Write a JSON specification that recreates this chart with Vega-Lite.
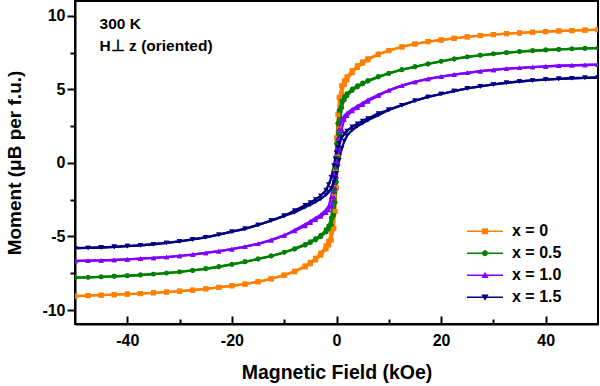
{
"$schema": "https://vega.github.io/schema/vega-lite/v6.json",
"width": 523, "height": 323,
"autosize": {"type": "none"},
"padding": {"left": 75, "top": 1, "right": 2, "bottom": 62},
"background": "white",
"config": {
 "font": "Liberation Sans",
 "view": {"stroke": "black", "strokeWidth": 2},
 "axis": {"domainColor": "black", "domainWidth": 2, "tickColor": "black", "tickWidth": 2, "labelColor": "black", "titleColor": "black", "labelFont": "Liberation Sans", "titleFont": "Liberation Sans", "labelFontWeight": "bold", "titleFontWeight": "bold", "labelFontSize": 16, "titleFontSize": 19, "grid": false}
},
"datasets": {
 "notes": [{"H": -45.3, "M": 9.44, "t": "300 K"}, {"H": -45.3, "M": 7.95, "t": "H⊥ z (oriented)"}],
 "mh": [
{"s":"x = 0","b":"d","H":50,"M":9.05},{"s":"x = 0","b":"d","H":47.5,"M":9.02},{"s":"x = 0","b":"d","H":45,"M":8.99},{"s":"x = 0","b":"d","H":42.5,"M":8.96},{"s":"x = 0","b":"d","H":40,"M":8.92},{"s":"x = 0","b":"d","H":37.5,"M":8.88},{"s":"x = 0","b":"d","H":35,"M":8.83},{"s":"x = 0","b":"d","H":32.5,"M":8.78},{"s":"x = 0","b":"d","H":30,"M":8.72},{"s":"x = 0","b":"d","H":27.5,"M":8.65},{"s":"x = 0","b":"d","H":25,"M":8.56},{"s":"x = 0","b":"d","H":22.5,"M":8.46},{"s":"x = 0","b":"d","H":20,"M":8.35},{"s":"x = 0","b":"d","H":17.5,"M":8.24},{"s":"x = 0","b":"d","H":15,"M":8.08},{"s":"x = 0","b":"d","H":12.5,"M":7.88},{"s":"x = 0","b":"d","H":10,"M":7.63},
{"s":"x = 0","b":"d","H":8,"M":7.4},{"s":"x = 0","b":"d","H":6,"M":7.07},{"s":"x = 0","b":"d","H":5,"M":6.86},{"s":"x = 0","b":"d","H":4,"M":6.6},{"s":"x = 0","b":"d","H":3,"M":6.27},{"s":"x = 0","b":"d","H":2,"M":5.85},{"s":"x = 0","b":"d","H":1.5,"M":5.58},{"s":"x = 0","b":"d","H":1,"M":5.25},{"s":"x = 0","b":"d","H":0.5,"M":4.45},{"s":"x = 0","b":"d","H":0.25,"M":3.3},{"s":"x = 0","b":"d","H":0,"M":1.7},{"s":"x = 0","b":"d","H":-0.25,"M":-0.4},{"s":"x = 0","b":"d","H":-0.5,"M":-2.3},{"s":"x = 0","b":"d","H":-1,"M":-4.7},{"s":"x = 0","b":"d","H":-1.5,"M":-5.33},{"s":"x = 0","b":"d","H":-2,"M":-5.64},{"s":"x = 0","b":"d","H":-3,"M":-6.13},{"s":"x = 0","b":"d","H":-4,"M":-6.48},{"s":"x = 0","b":"d","H":-5,"M":-6.77},{"s":"x = 0","b":"d","H":-6,"M":-7.0},{"s":"x = 0","b":"d","H":-8,"M":-7.36},
{"s":"x = 0","b":"d","H":-10,"M":-7.63},{"s":"x = 0","b":"d","H":-12.5,"M":-7.88},{"s":"x = 0","b":"d","H":-15,"M":-8.08},{"s":"x = 0","b":"d","H":-17.5,"M":-8.24},{"s":"x = 0","b":"d","H":-20,"M":-8.35},{"s":"x = 0","b":"d","H":-22.5,"M":-8.46},{"s":"x = 0","b":"d","H":-25,"M":-8.56},{"s":"x = 0","b":"d","H":-27.5,"M":-8.65},{"s":"x = 0","b":"d","H":-30,"M":-8.72},{"s":"x = 0","b":"d","H":-32.5,"M":-8.78},{"s":"x = 0","b":"d","H":-35,"M":-8.83},{"s":"x = 0","b":"d","H":-37.5,"M":-8.88},{"s":"x = 0","b":"d","H":-40,"M":-8.92},{"s":"x = 0","b":"d","H":-42.5,"M":-8.96},{"s":"x = 0","b":"d","H":-45,"M":-8.99},{"s":"x = 0","b":"d","H":-47.5,"M":-9.02},{"s":"x = 0","b":"d","H":-50,"M":-9.05},
{"s":"x = 0","b":"a","H":50,"M":9.05},{"s":"x = 0","b":"a","H":47.5,"M":9.02},{"s":"x = 0","b":"a","H":45,"M":8.99},{"s":"x = 0","b":"a","H":42.5,"M":8.96},{"s":"x = 0","b":"a","H":40,"M":8.92},{"s":"x = 0","b":"a","H":37.5,"M":8.88},{"s":"x = 0","b":"a","H":35,"M":8.83},{"s":"x = 0","b":"a","H":32.5,"M":8.78},{"s":"x = 0","b":"a","H":30,"M":8.72},{"s":"x = 0","b":"a","H":27.5,"M":8.65},{"s":"x = 0","b":"a","H":25,"M":8.56},{"s":"x = 0","b":"a","H":22.5,"M":8.46},{"s":"x = 0","b":"a","H":20,"M":8.35},{"s":"x = 0","b":"a","H":17.5,"M":8.24},{"s":"x = 0","b":"a","H":15,"M":8.08},{"s":"x = 0","b":"a","H":12.5,"M":7.88},{"s":"x = 0","b":"a","H":10,"M":7.63},
{"s":"x = 0","b":"a","H":8,"M":7.36},{"s":"x = 0","b":"a","H":6,"M":7.0},{"s":"x = 0","b":"a","H":5,"M":6.77},{"s":"x = 0","b":"a","H":4,"M":6.48},{"s":"x = 0","b":"a","H":3,"M":6.13},{"s":"x = 0","b":"a","H":2,"M":5.64},{"s":"x = 0","b":"a","H":1.5,"M":5.33},{"s":"x = 0","b":"a","H":1,"M":4.7},{"s":"x = 0","b":"a","H":0.5,"M":2.3},{"s":"x = 0","b":"a","H":0.25,"M":0.4},{"s":"x = 0","b":"a","H":0,"M":-1.7},{"s":"x = 0","b":"a","H":-0.25,"M":-3.3},{"s":"x = 0","b":"a","H":-0.5,"M":-4.45},{"s":"x = 0","b":"a","H":-1,"M":-5.25},{"s":"x = 0","b":"a","H":-1.5,"M":-5.58},{"s":"x = 0","b":"a","H":-2,"M":-5.85},{"s":"x = 0","b":"a","H":-3,"M":-6.27},{"s":"x = 0","b":"a","H":-4,"M":-6.6},{"s":"x = 0","b":"a","H":-5,"M":-6.86},{"s":"x = 0","b":"a","H":-6,"M":-7.07},{"s":"x = 0","b":"a","H":-8,"M":-7.4},
{"s":"x = 0","b":"a","H":-10,"M":-7.63},{"s":"x = 0","b":"a","H":-12.5,"M":-7.88},{"s":"x = 0","b":"a","H":-15,"M":-8.08},{"s":"x = 0","b":"a","H":-17.5,"M":-8.24},{"s":"x = 0","b":"a","H":-20,"M":-8.35},{"s":"x = 0","b":"a","H":-22.5,"M":-8.46},{"s":"x = 0","b":"a","H":-25,"M":-8.56},{"s":"x = 0","b":"a","H":-27.5,"M":-8.65},{"s":"x = 0","b":"a","H":-30,"M":-8.72},{"s":"x = 0","b":"a","H":-32.5,"M":-8.78},{"s":"x = 0","b":"a","H":-35,"M":-8.83},{"s":"x = 0","b":"a","H":-37.5,"M":-8.88},{"s":"x = 0","b":"a","H":-40,"M":-8.92},{"s":"x = 0","b":"a","H":-42.5,"M":-8.96},{"s":"x = 0","b":"a","H":-45,"M":-8.99},{"s":"x = 0","b":"a","H":-47.5,"M":-9.02},{"s":"x = 0","b":"a","H":-50,"M":-9.05},

{"s":"x = 0.5","b":"d","H":50,"M":7.8},{"s":"x = 0.5","b":"d","H":47.5,"M":7.78},{"s":"x = 0.5","b":"d","H":45,"M":7.75},{"s":"x = 0.5","b":"d","H":42.5,"M":7.71},{"s":"x = 0.5","b":"d","H":40,"M":7.67},{"s":"x = 0.5","b":"d","H":37.5,"M":7.62},{"s":"x = 0.5","b":"d","H":35,"M":7.56},{"s":"x = 0.5","b":"d","H":32.5,"M":7.49},{"s":"x = 0.5","b":"d","H":30,"M":7.41},{"s":"x = 0.5","b":"d","H":27.5,"M":7.31},{"s":"x = 0.5","b":"d","H":25,"M":7.2},{"s":"x = 0.5","b":"d","H":22.5,"M":7.06},{"s":"x = 0.5","b":"d","H":20,"M":6.9},{"s":"x = 0.5","b":"d","H":17.5,"M":6.72},{"s":"x = 0.5","b":"d","H":15,"M":6.53},{"s":"x = 0.5","b":"d","H":12.5,"M":6.33},{"s":"x = 0.5","b":"d","H":10,"M":6.08},
{"s":"x = 0.5","b":"d","H":8,"M":5.87},{"s":"x = 0.5","b":"d","H":6,"M":5.6},{"s":"x = 0.5","b":"d","H":5,"M":5.43},{"s":"x = 0.5","b":"d","H":4,"M":5.24},{"s":"x = 0.5","b":"d","H":3,"M":5.02},{"s":"x = 0.5","b":"d","H":2,"M":4.7},{"s":"x = 0.5","b":"d","H":1.5,"M":4.5},{"s":"x = 0.5","b":"d","H":1,"M":4.2},{"s":"x = 0.5","b":"d","H":0.5,"M":3.55},{"s":"x = 0.5","b":"d","H":0.25,"M":2.7},{"s":"x = 0.5","b":"d","H":0,"M":1.3},{"s":"x = 0.5","b":"d","H":-0.25,"M":-0.33},{"s":"x = 0.5","b":"d","H":-0.5,"M":-1.9},{"s":"x = 0.5","b":"d","H":-1,"M":-3.75},{"s":"x = 0.5","b":"d","H":-1.5,"M":-4.28},{"s":"x = 0.5","b":"d","H":-2,"M":-4.55},{"s":"x = 0.5","b":"d","H":-3,"M":-4.92},{"s":"x = 0.5","b":"d","H":-4,"M":-5.15},{"s":"x = 0.5","b":"d","H":-5,"M":-5.36},{"s":"x = 0.5","b":"d","H":-6,"M":-5.54},{"s":"x = 0.5","b":"d","H":-8,"M":-5.83},
{"s":"x = 0.5","b":"d","H":-10,"M":-6.08},{"s":"x = 0.5","b":"d","H":-12.5,"M":-6.33},{"s":"x = 0.5","b":"d","H":-15,"M":-6.53},{"s":"x = 0.5","b":"d","H":-17.5,"M":-6.72},{"s":"x = 0.5","b":"d","H":-20,"M":-6.9},{"s":"x = 0.5","b":"d","H":-22.5,"M":-7.06},{"s":"x = 0.5","b":"d","H":-25,"M":-7.2},{"s":"x = 0.5","b":"d","H":-27.5,"M":-7.31},{"s":"x = 0.5","b":"d","H":-30,"M":-7.41},{"s":"x = 0.5","b":"d","H":-32.5,"M":-7.49},{"s":"x = 0.5","b":"d","H":-35,"M":-7.56},{"s":"x = 0.5","b":"d","H":-37.5,"M":-7.62},{"s":"x = 0.5","b":"d","H":-40,"M":-7.67},{"s":"x = 0.5","b":"d","H":-42.5,"M":-7.71},{"s":"x = 0.5","b":"d","H":-45,"M":-7.75},{"s":"x = 0.5","b":"d","H":-47.5,"M":-7.78},{"s":"x = 0.5","b":"d","H":-50,"M":-7.8},
{"s":"x = 0.5","b":"a","H":50,"M":7.8},{"s":"x = 0.5","b":"a","H":47.5,"M":7.78},{"s":"x = 0.5","b":"a","H":45,"M":7.75},{"s":"x = 0.5","b":"a","H":42.5,"M":7.71},{"s":"x = 0.5","b":"a","H":40,"M":7.67},{"s":"x = 0.5","b":"a","H":37.5,"M":7.62},{"s":"x = 0.5","b":"a","H":35,"M":7.56},{"s":"x = 0.5","b":"a","H":32.5,"M":7.49},{"s":"x = 0.5","b":"a","H":30,"M":7.41},{"s":"x = 0.5","b":"a","H":27.5,"M":7.31},{"s":"x = 0.5","b":"a","H":25,"M":7.2},{"s":"x = 0.5","b":"a","H":22.5,"M":7.06},{"s":"x = 0.5","b":"a","H":20,"M":6.9},{"s":"x = 0.5","b":"a","H":17.5,"M":6.72},{"s":"x = 0.5","b":"a","H":15,"M":6.53},{"s":"x = 0.5","b":"a","H":12.5,"M":6.33},{"s":"x = 0.5","b":"a","H":10,"M":6.08},
{"s":"x = 0.5","b":"a","H":8,"M":5.83},{"s":"x = 0.5","b":"a","H":6,"M":5.54},{"s":"x = 0.5","b":"a","H":5,"M":5.36},{"s":"x = 0.5","b":"a","H":4,"M":5.15},{"s":"x = 0.5","b":"a","H":3,"M":4.92},{"s":"x = 0.5","b":"a","H":2,"M":4.55},{"s":"x = 0.5","b":"a","H":1.5,"M":4.28},{"s":"x = 0.5","b":"a","H":1,"M":3.75},{"s":"x = 0.5","b":"a","H":0.5,"M":1.9},{"s":"x = 0.5","b":"a","H":0.25,"M":0.33},{"s":"x = 0.5","b":"a","H":0,"M":-1.3},{"s":"x = 0.5","b":"a","H":-0.25,"M":-2.7},{"s":"x = 0.5","b":"a","H":-0.5,"M":-3.55},{"s":"x = 0.5","b":"a","H":-1,"M":-4.2},{"s":"x = 0.5","b":"a","H":-1.5,"M":-4.5},{"s":"x = 0.5","b":"a","H":-2,"M":-4.7},{"s":"x = 0.5","b":"a","H":-3,"M":-5.02},{"s":"x = 0.5","b":"a","H":-4,"M":-5.24},{"s":"x = 0.5","b":"a","H":-5,"M":-5.43},{"s":"x = 0.5","b":"a","H":-6,"M":-5.6},{"s":"x = 0.5","b":"a","H":-8,"M":-5.87},
{"s":"x = 0.5","b":"a","H":-10,"M":-6.08},{"s":"x = 0.5","b":"a","H":-12.5,"M":-6.33},{"s":"x = 0.5","b":"a","H":-15,"M":-6.53},{"s":"x = 0.5","b":"a","H":-17.5,"M":-6.72},{"s":"x = 0.5","b":"a","H":-20,"M":-6.9},{"s":"x = 0.5","b":"a","H":-22.5,"M":-7.06},{"s":"x = 0.5","b":"a","H":-25,"M":-7.2},{"s":"x = 0.5","b":"a","H":-27.5,"M":-7.31},{"s":"x = 0.5","b":"a","H":-30,"M":-7.41},{"s":"x = 0.5","b":"a","H":-32.5,"M":-7.49},{"s":"x = 0.5","b":"a","H":-35,"M":-7.56},{"s":"x = 0.5","b":"a","H":-37.5,"M":-7.62},{"s":"x = 0.5","b":"a","H":-40,"M":-7.67},{"s":"x = 0.5","b":"a","H":-42.5,"M":-7.71},{"s":"x = 0.5","b":"a","H":-45,"M":-7.75},{"s":"x = 0.5","b":"a","H":-47.5,"M":-7.78},{"s":"x = 0.5","b":"a","H":-50,"M":-7.8},

{"s":"x = 1.0","b":"d","H":50,"M":6.67},{"s":"x = 1.0","b":"d","H":47.5,"M":6.65},{"s":"x = 1.0","b":"d","H":45,"M":6.63},{"s":"x = 1.0","b":"d","H":42.5,"M":6.6},{"s":"x = 1.0","b":"d","H":40,"M":6.56},{"s":"x = 1.0","b":"d","H":37.5,"M":6.51},{"s":"x = 1.0","b":"d","H":35,"M":6.46},{"s":"x = 1.0","b":"d","H":32.5,"M":6.4},{"s":"x = 1.0","b":"d","H":30,"M":6.32},{"s":"x = 1.0","b":"d","H":27.5,"M":6.23},{"s":"x = 1.0","b":"d","H":25,"M":6.12},{"s":"x = 1.0","b":"d","H":22.5,"M":6.0},{"s":"x = 1.0","b":"d","H":20,"M":5.86},{"s":"x = 1.0","b":"d","H":17.5,"M":5.7},{"s":"x = 1.0","b":"d","H":15,"M":5.5},{"s":"x = 1.0","b":"d","H":12.5,"M":5.25},{"s":"x = 1.0","b":"d","H":10,"M":4.93},
{"s":"x = 1.0","b":"d","H":8,"M":4.63},{"s":"x = 1.0","b":"d","H":6,"M":4.28},{"s":"x = 1.0","b":"d","H":5,"M":4.07},{"s":"x = 1.0","b":"d","H":4,"M":3.86},{"s":"x = 1.0","b":"d","H":3,"M":3.64},{"s":"x = 1.0","b":"d","H":2,"M":3.38},{"s":"x = 1.0","b":"d","H":1.5,"M":3.2},{"s":"x = 1.0","b":"d","H":1,"M":2.95},{"s":"x = 1.0","b":"d","H":0.5,"M":2.3},{"s":"x = 1.0","b":"d","H":0.25,"M":1.7},{"s":"x = 1.0","b":"d","H":0,"M":0.9},{"s":"x = 1.0","b":"d","H":-0.25,"M":0},{"s":"x = 1.0","b":"d","H":-0.5,"M":-0.9},{"s":"x = 1.0","b":"d","H":-1,"M":-2.3},{"s":"x = 1.0","b":"d","H":-1.5,"M":-2.95},{"s":"x = 1.0","b":"d","H":-2,"M":-3.2},{"s":"x = 1.0","b":"d","H":-3,"M":-3.52},{"s":"x = 1.0","b":"d","H":-4,"M":-3.75},{"s":"x = 1.0","b":"d","H":-5,"M":-3.96},{"s":"x = 1.0","b":"d","H":-6,"M":-4.18},{"s":"x = 1.0","b":"d","H":-8,"M":-4.57},
{"s":"x = 1.0","b":"d","H":-10,"M":-4.93},{"s":"x = 1.0","b":"d","H":-12.5,"M":-5.25},{"s":"x = 1.0","b":"d","H":-15,"M":-5.5},{"s":"x = 1.0","b":"d","H":-17.5,"M":-5.7},{"s":"x = 1.0","b":"d","H":-20,"M":-5.86},{"s":"x = 1.0","b":"d","H":-22.5,"M":-6.0},{"s":"x = 1.0","b":"d","H":-25,"M":-6.12},{"s":"x = 1.0","b":"d","H":-27.5,"M":-6.23},{"s":"x = 1.0","b":"d","H":-30,"M":-6.32},{"s":"x = 1.0","b":"d","H":-32.5,"M":-6.4},{"s":"x = 1.0","b":"d","H":-35,"M":-6.46},{"s":"x = 1.0","b":"d","H":-37.5,"M":-6.51},{"s":"x = 1.0","b":"d","H":-40,"M":-6.56},{"s":"x = 1.0","b":"d","H":-42.5,"M":-6.6},{"s":"x = 1.0","b":"d","H":-45,"M":-6.63},{"s":"x = 1.0","b":"d","H":-47.5,"M":-6.65},{"s":"x = 1.0","b":"d","H":-50,"M":-6.67},
{"s":"x = 1.0","b":"a","H":50,"M":6.67},{"s":"x = 1.0","b":"a","H":47.5,"M":6.65},{"s":"x = 1.0","b":"a","H":45,"M":6.63},{"s":"x = 1.0","b":"a","H":42.5,"M":6.6},{"s":"x = 1.0","b":"a","H":40,"M":6.56},{"s":"x = 1.0","b":"a","H":37.5,"M":6.51},{"s":"x = 1.0","b":"a","H":35,"M":6.46},{"s":"x = 1.0","b":"a","H":32.5,"M":6.4},{"s":"x = 1.0","b":"a","H":30,"M":6.32},{"s":"x = 1.0","b":"a","H":27.5,"M":6.23},{"s":"x = 1.0","b":"a","H":25,"M":6.12},{"s":"x = 1.0","b":"a","H":22.5,"M":6.0},{"s":"x = 1.0","b":"a","H":20,"M":5.86},{"s":"x = 1.0","b":"a","H":17.5,"M":5.7},{"s":"x = 1.0","b":"a","H":15,"M":5.5},{"s":"x = 1.0","b":"a","H":12.5,"M":5.25},{"s":"x = 1.0","b":"a","H":10,"M":4.93},
{"s":"x = 1.0","b":"a","H":8,"M":4.57},{"s":"x = 1.0","b":"a","H":6,"M":4.18},{"s":"x = 1.0","b":"a","H":5,"M":3.96},{"s":"x = 1.0","b":"a","H":4,"M":3.75},{"s":"x = 1.0","b":"a","H":3,"M":3.52},{"s":"x = 1.0","b":"a","H":2,"M":3.2},{"s":"x = 1.0","b":"a","H":1.5,"M":2.95},{"s":"x = 1.0","b":"a","H":1,"M":2.3},{"s":"x = 1.0","b":"a","H":0.5,"M":0.9},{"s":"x = 1.0","b":"a","H":0.25,"M":0},{"s":"x = 1.0","b":"a","H":0,"M":-0.9},{"s":"x = 1.0","b":"a","H":-0.25,"M":-1.7},{"s":"x = 1.0","b":"a","H":-0.5,"M":-2.3},{"s":"x = 1.0","b":"a","H":-1,"M":-2.95},{"s":"x = 1.0","b":"a","H":-1.5,"M":-3.2},{"s":"x = 1.0","b":"a","H":-2,"M":-3.38},{"s":"x = 1.0","b":"a","H":-3,"M":-3.64},{"s":"x = 1.0","b":"a","H":-4,"M":-3.86},{"s":"x = 1.0","b":"a","H":-5,"M":-4.07},{"s":"x = 1.0","b":"a","H":-6,"M":-4.28},{"s":"x = 1.0","b":"a","H":-8,"M":-4.63},
{"s":"x = 1.0","b":"a","H":-10,"M":-4.93},{"s":"x = 1.0","b":"a","H":-12.5,"M":-5.25},{"s":"x = 1.0","b":"a","H":-15,"M":-5.5},{"s":"x = 1.0","b":"a","H":-17.5,"M":-5.7},{"s":"x = 1.0","b":"a","H":-20,"M":-5.86},{"s":"x = 1.0","b":"a","H":-22.5,"M":-6.0},{"s":"x = 1.0","b":"a","H":-25,"M":-6.12},{"s":"x = 1.0","b":"a","H":-27.5,"M":-6.23},{"s":"x = 1.0","b":"a","H":-30,"M":-6.32},{"s":"x = 1.0","b":"a","H":-32.5,"M":-6.4},{"s":"x = 1.0","b":"a","H":-35,"M":-6.46},{"s":"x = 1.0","b":"a","H":-37.5,"M":-6.51},{"s":"x = 1.0","b":"a","H":-40,"M":-6.56},{"s":"x = 1.0","b":"a","H":-42.5,"M":-6.6},{"s":"x = 1.0","b":"a","H":-45,"M":-6.63},{"s":"x = 1.0","b":"a","H":-47.5,"M":-6.65},{"s":"x = 1.0","b":"a","H":-50,"M":-6.67},

{"s":"x = 1.5","b":"d","H":50,"M":5.8},{"s":"x = 1.5","b":"d","H":47.5,"M":5.78},{"s":"x = 1.5","b":"d","H":45,"M":5.75},{"s":"x = 1.5","b":"d","H":42.5,"M":5.71},{"s":"x = 1.5","b":"d","H":40,"M":5.66},{"s":"x = 1.5","b":"d","H":37.5,"M":5.6},{"s":"x = 1.5","b":"d","H":35,"M":5.53},{"s":"x = 1.5","b":"d","H":32.5,"M":5.44},{"s":"x = 1.5","b":"d","H":30,"M":5.33},{"s":"x = 1.5","b":"d","H":27.5,"M":5.2},{"s":"x = 1.5","b":"d","H":25,"M":5.06},{"s":"x = 1.5","b":"d","H":22.5,"M":4.88},{"s":"x = 1.5","b":"d","H":20,"M":4.68},{"s":"x = 1.5","b":"d","H":17.5,"M":4.48},{"s":"x = 1.5","b":"d","H":15,"M":4.22},{"s":"x = 1.5","b":"d","H":12.5,"M":3.92},{"s":"x = 1.5","b":"d","H":10,"M":3.6},
{"s":"x = 1.5","b":"d","H":8,"M":3.36},{"s":"x = 1.5","b":"d","H":6,"M":3.02},{"s":"x = 1.5","b":"d","H":5,"M":2.85},{"s":"x = 1.5","b":"d","H":4,"M":2.66},{"s":"x = 1.5","b":"d","H":3,"M":2.45},{"s":"x = 1.5","b":"d","H":2,"M":2.17},{"s":"x = 1.5","b":"d","H":1.5,"M":1.98},{"s":"x = 1.5","b":"d","H":1,"M":1.72},{"s":"x = 1.5","b":"d","H":0.5,"M":1.32},{"s":"x = 1.5","b":"d","H":0.25,"M":1.04},{"s":"x = 1.5","b":"d","H":0,"M":0.7},{"s":"x = 1.5","b":"d","H":-0.25,"M":0.27},{"s":"x = 1.5","b":"d","H":-0.5,"M":-0.18},{"s":"x = 1.5","b":"d","H":-1,"M":-0.98},{"s":"x = 1.5","b":"d","H":-1.5,"M":-1.48},{"s":"x = 1.5","b":"d","H":-2,"M":-1.85},{"s":"x = 1.5","b":"d","H":-3,"M":-2.23},{"s":"x = 1.5","b":"d","H":-4,"M":-2.49},{"s":"x = 1.5","b":"d","H":-5,"M":-2.7},{"s":"x = 1.5","b":"d","H":-6,"M":-2.89},{"s":"x = 1.5","b":"d","H":-8,"M":-3.24},
{"s":"x = 1.5","b":"d","H":-10,"M":-3.6},{"s":"x = 1.5","b":"d","H":-12.5,"M":-3.92},{"s":"x = 1.5","b":"d","H":-15,"M":-4.22},{"s":"x = 1.5","b":"d","H":-17.5,"M":-4.48},{"s":"x = 1.5","b":"d","H":-20,"M":-4.68},{"s":"x = 1.5","b":"d","H":-22.5,"M":-4.88},{"s":"x = 1.5","b":"d","H":-25,"M":-5.06},{"s":"x = 1.5","b":"d","H":-27.5,"M":-5.2},{"s":"x = 1.5","b":"d","H":-30,"M":-5.33},{"s":"x = 1.5","b":"d","H":-32.5,"M":-5.44},{"s":"x = 1.5","b":"d","H":-35,"M":-5.53},{"s":"x = 1.5","b":"d","H":-37.5,"M":-5.6},{"s":"x = 1.5","b":"d","H":-40,"M":-5.66},{"s":"x = 1.5","b":"d","H":-42.5,"M":-5.71},{"s":"x = 1.5","b":"d","H":-45,"M":-5.75},{"s":"x = 1.5","b":"d","H":-47.5,"M":-5.78},{"s":"x = 1.5","b":"d","H":-50,"M":-5.8},
{"s":"x = 1.5","b":"a","H":50,"M":5.8},{"s":"x = 1.5","b":"a","H":47.5,"M":5.78},{"s":"x = 1.5","b":"a","H":45,"M":5.75},{"s":"x = 1.5","b":"a","H":42.5,"M":5.71},{"s":"x = 1.5","b":"a","H":40,"M":5.66},{"s":"x = 1.5","b":"a","H":37.5,"M":5.6},{"s":"x = 1.5","b":"a","H":35,"M":5.53},{"s":"x = 1.5","b":"a","H":32.5,"M":5.44},{"s":"x = 1.5","b":"a","H":30,"M":5.33},{"s":"x = 1.5","b":"a","H":27.5,"M":5.2},{"s":"x = 1.5","b":"a","H":25,"M":5.06},{"s":"x = 1.5","b":"a","H":22.5,"M":4.88},{"s":"x = 1.5","b":"a","H":20,"M":4.68},{"s":"x = 1.5","b":"a","H":17.5,"M":4.48},{"s":"x = 1.5","b":"a","H":15,"M":4.22},{"s":"x = 1.5","b":"a","H":12.5,"M":3.92},{"s":"x = 1.5","b":"a","H":10,"M":3.6},
{"s":"x = 1.5","b":"a","H":8,"M":3.24},{"s":"x = 1.5","b":"a","H":6,"M":2.89},{"s":"x = 1.5","b":"a","H":5,"M":2.7},{"s":"x = 1.5","b":"a","H":4,"M":2.49},{"s":"x = 1.5","b":"a","H":3,"M":2.23},{"s":"x = 1.5","b":"a","H":2,"M":1.85},{"s":"x = 1.5","b":"a","H":1.5,"M":1.48},{"s":"x = 1.5","b":"a","H":1,"M":0.98},{"s":"x = 1.5","b":"a","H":0.5,"M":0.18},{"s":"x = 1.5","b":"a","H":0.25,"M":-0.27},{"s":"x = 1.5","b":"a","H":0,"M":-0.7},{"s":"x = 1.5","b":"a","H":-0.25,"M":-1.04},{"s":"x = 1.5","b":"a","H":-0.5,"M":-1.32},{"s":"x = 1.5","b":"a","H":-1,"M":-1.72},{"s":"x = 1.5","b":"a","H":-1.5,"M":-1.98},{"s":"x = 1.5","b":"a","H":-2,"M":-2.17},{"s":"x = 1.5","b":"a","H":-3,"M":-2.45},{"s":"x = 1.5","b":"a","H":-4,"M":-2.66},{"s":"x = 1.5","b":"a","H":-5,"M":-2.85},{"s":"x = 1.5","b":"a","H":-6,"M":-3.02},{"s":"x = 1.5","b":"a","H":-8,"M":-3.36},
{"s":"x = 1.5","b":"a","H":-10,"M":-3.6},{"s":"x = 1.5","b":"a","H":-12.5,"M":-3.92},{"s":"x = 1.5","b":"a","H":-15,"M":-4.22},{"s":"x = 1.5","b":"a","H":-17.5,"M":-4.48},{"s":"x = 1.5","b":"a","H":-20,"M":-4.68},{"s":"x = 1.5","b":"a","H":-22.5,"M":-4.88},{"s":"x = 1.5","b":"a","H":-25,"M":-5.06},{"s":"x = 1.5","b":"a","H":-27.5,"M":-5.2},{"s":"x = 1.5","b":"a","H":-30,"M":-5.33},{"s":"x = 1.5","b":"a","H":-32.5,"M":-5.44},{"s":"x = 1.5","b":"a","H":-35,"M":-5.53},{"s":"x = 1.5","b":"a","H":-37.5,"M":-5.6},{"s":"x = 1.5","b":"a","H":-40,"M":-5.66},{"s":"x = 1.5","b":"a","H":-42.5,"M":-5.71},{"s":"x = 1.5","b":"a","H":-45,"M":-5.75},{"s":"x = 1.5","b":"a","H":-47.5,"M":-5.78},{"s":"x = 1.5","b":"a","H":-50,"M":-5.8}
 ]
},
"data": {"name": "mh"},
"encoding": {
 "x": {"field": "H", "type": "quantitative", "scale": {"domain": [-50, 50], "nice": false, "zero": false},
  "axis": {"values": [-40, -30, -20, -10, 0, 10, 20, 30, 40], "labelExpr": "datum.value % 20 === 0 ? replace(datum.label, '\u2212', '-') : ''", "tickSize": {"condition": {"test": "datum.value % 20 === 0", "value": -8}, "value": -5}, "labelPadding": 16, "title": "Magnetic Field (kOe)", "titleFontSize": 19.5, "titlePadding": 15}},
 "y": {"field": "M", "type": "quantitative", "scale": {"domain": [-10.95, 11], "nice": false, "zero": false},
  "axis": {"values": [-10, -7.5, -5, -2.5, 0, 2.5, 5, 7.5, 10], "labelExpr": "datum.value % 5 === 0 ? replace(datum.label, '\u2212', '-') : ''", "tickSize": {"condition": {"test": "datum.value % 5 === 0", "value": 8}, "value": 5}, "labelPadding": 2, "title": "Moment (μB per f.u.)", "titlePadding": 17}}
},
"layer": [
 {"mark": {"type": "line", "strokeWidth": 2.3, "clip": true},
  "encoding": {"stroke": {"field": "s", "type": "nominal", "scale": {"range": ["#FF8000", "#008000", "#8000FF", "#000080"]}, "legend": null}, "detail": {"field": "b"}}},
 {"transform": [{"filter": {"field": "s", "equal": "x = 0"}}], "mark": {"type": "point", "shape": "square", "filled": true, "opacity": 1, "size": 26, "clip": true},
  "encoding": {"fill": {"field": "s", "type": "nominal", "scale": {"range": ["#FF8000", "#008000", "#8000FF", "#000080"]}, "legend": null}}},
 {"transform": [{"filter": {"field": "s", "equal": "x = 0.5"}}], "mark": {"type": "point", "shape": "circle", "filled": true, "opacity": 1, "size": 24, "clip": true},
  "encoding": {"fill": {"field": "s", "type": "nominal", "legend": null}}},
 {"transform": [{"filter": {"field": "s", "equal": "x = 1.0"}}], "mark": {"type": "point", "shape": "triangle-up", "filled": true, "opacity": 1, "size": 28, "clip": true},
  "encoding": {"fill": {"field": "s", "type": "nominal", "legend": null}}},
 {"transform": [{"filter": {"field": "s", "equal": "x = 1.5"}}], "mark": {"type": "point", "shape": "triangle-down", "filled": true, "opacity": 1, "size": 28, "clip": true},
  "encoding": {"fill": {"field": "s", "type": "nominal", "legend": null}}},
 {"transform": [{"filter": "datum.H > 1000"}], "mark": {"type": "point", "filled": true, "opacity": 1},
  "encoding": {
   "color": {"field": "s", "type": "nominal", "scale": {"domain": ["x = 0", "x = 0.5", "x = 1.0", "x = 1.5"], "range": ["#FF8000", "#008000", "#8000FF", "#000080"]},
    "legend": {"orient": "none", "legendX": 392, "legendY": 222, "title": null, "symbolSize": 1296, "labelFontSize": 16, "labelFontWeight": "bold", "labelFont": "Liberation Sans", "labelColor": "black", "labelOffset": 9, "rowPadding": 5, "clipHeight": 16.5, "padding": 0, "symbolOpacity": 1, "symbolStrokeWidth": 0}},
   "shape": {"field": "s", "type": "nominal", "scale": {"domain": ["x = 0", "x = 0.5", "x = 1.0", "x = 1.5"], "range": ["M-1,-0.045H1V0.045H-1Z M-0.17,-0.17H0.17V0.17H-0.17Z", "M-1,-0.045H1V0.045H-1Z M-0.16,0A0.16,0.16 0 1 1 0.16,0A0.16,0.16 0 1 1 -0.16,0Z", "M-1,-0.045H1V0.045H-1Z M0,-0.2L0.2,0.15L-0.2,0.15Z", "M-1,-0.045H1V0.045H-1Z M-0.2,-0.15L0.2,-0.15L0,0.2Z"]},
    "legend": {"orient": "none", "legendX": 392, "legendY": 222, "title": null, "symbolSize": 1296, "labelFontSize": 16, "labelFontWeight": "bold", "labelFont": "Liberation Sans", "labelColor": "black", "labelOffset": 9, "rowPadding": 5, "clipHeight": 16.5, "padding": 0, "symbolOpacity": 1, "symbolStrokeWidth": 0}}
  }},
 {"data": {"name": "notes"}, "mark": {"type": "text", "align": "left", "baseline": "middle", "fontSize": 15.5, "fontWeight": "bold", "font": "Liberation Sans", "color": "black"},
  "encoding": {"text": {"field": "t"}}}
]
}
